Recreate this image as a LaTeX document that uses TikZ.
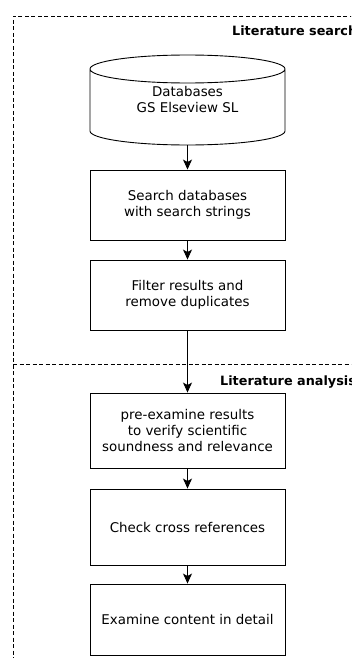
\documentclass[tikz,border=0pt]{standalone}
\usepackage{fontspec}
\setmainfont{DejaVu Sans}
\usetikzlibrary{arrows.meta}
\begin{document}
\begin{tikzpicture}[x=1pt,y=-1pt,
  stepbox/.style={draw,line width=0.9pt,minimum width=195pt,align=center,inner sep=0pt,font=\fontsize{13.4}{16}\selectfont},
  frame/.style={draw,line width=0.8pt,dash pattern=on 4pt off 2.5pt},
  flow/.style={draw,line width=0.9pt,-{Stealth[length=10pt,width=9pt,inset=2.5pt]}},
  lbl/.style={font=\fontsize{12.8}{14}\bfseries\selectfont,anchor=base west,inner sep=0pt}]
\useasboundingbox (0,0) rectangle (351,661);
\clip (0,0) rectangle (351,661);
% frame
\coordinate (tl) at (13,16);
\coordinate (tr) at (360,16);
\coordinate (bl) at (13,658);
\coordinate (ml) at (13,364);
\coordinate (mr) at (360,364);
\draw[frame] (tr) -- (tl) -- (bl);
\draw[frame] (ml) -- (mr);
\node[lbl] (ls) at (232,36) {Literature search};
\node[lbl] (la) at (220,385) {Literature analysis};
% database cylinder
\node[stepbox,draw=none,minimum height=90pt] (db) at (187.5,100) {Databases\\GS Elseview SL};
\draw[line width=0.9pt] (90,69) arc[start angle=180,end angle=-180,x radius=97.5,y radius=14]
  -- (90,131) arc[start angle=180,end angle=0,x radius=97.5,y radius=14] -- (285,69);
% boxes
\node[stepbox,minimum height=70pt] (b1) at (187.5,205) {Search databases\\with search strings};
\node[stepbox,minimum height=70pt] (b2) at (187.5,295) {Filter results and\\remove duplicates};
\node[stepbox,minimum height=75pt] (b3) at (187.5,430.5) {pre-examine results\\to verify scientific\\soundness and relevance};
\node[stepbox,minimum height=76pt] (b4) at (187.5,527) {Check cross references};
\node[stepbox,minimum height=71pt] (b5) at (187.5,619.5) {Examine content in detail};
% arrows
\draw[flow] (db.south) -- (b1.north);
\draw[flow] (b1) -- (b2);
\draw[flow] (b2) -- (b3);
\draw[flow] (b3) -- (b4);
\draw[flow] (b4) -- (b5);
\end{tikzpicture}
\end{document}
